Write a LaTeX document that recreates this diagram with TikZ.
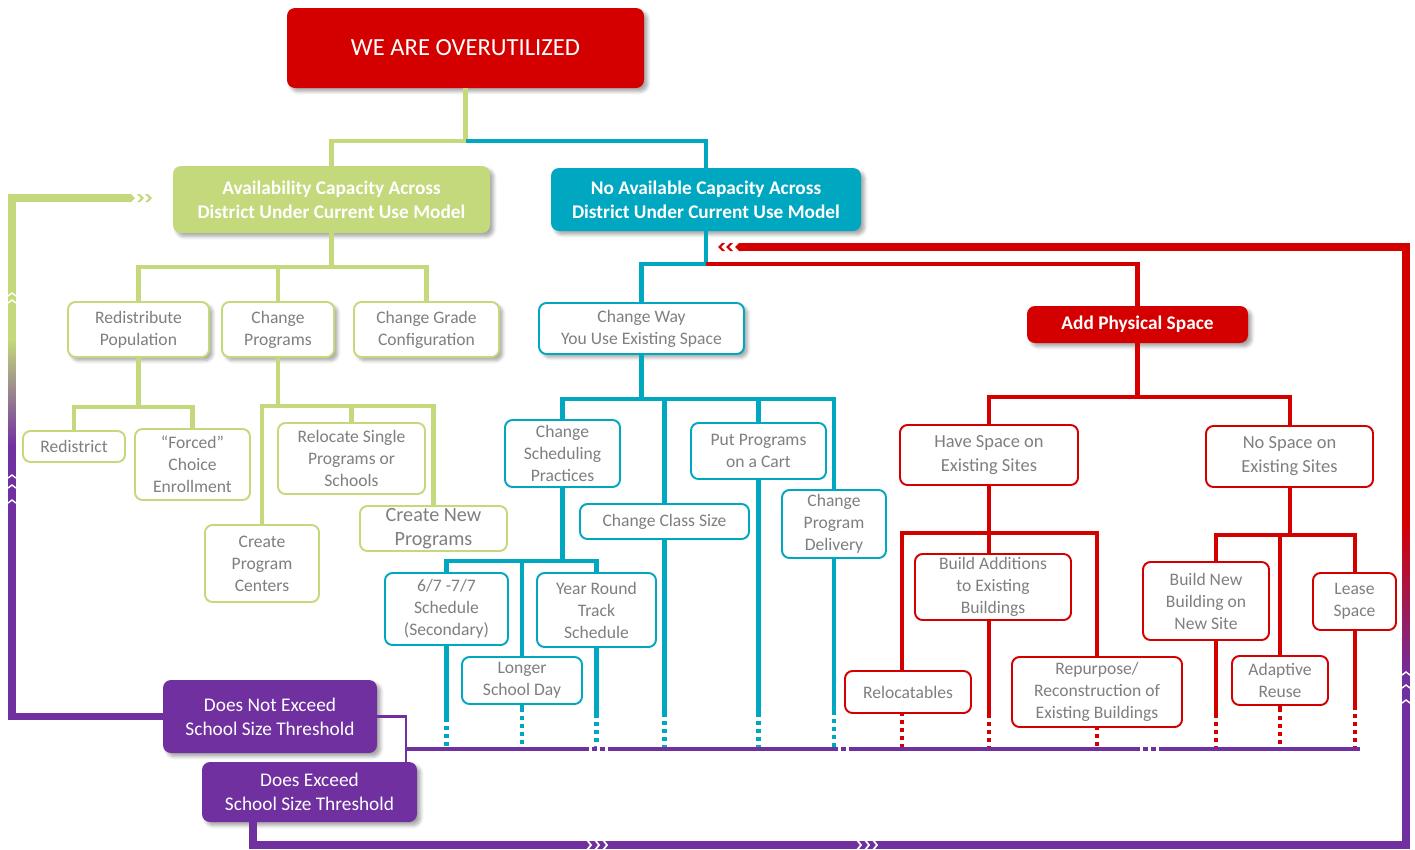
\documentclass[tikz,border=0pt]{standalone}
\usepackage{fontspec}
\setmainfont{Carlito}
\usetikzlibrary{shadows.blur}
\definecolor{cred}{HTML}{D40000}
\definecolor{cgreen}{HTML}{C3D97B}
\definecolor{cteal}{HTML}{00A7C0}
\definecolor{cpurple}{HTML}{7030A0}
\definecolor{ctext}{HTML}{7F7F7F}
\begin{document}
\begin{tikzpicture}[x=0.02cm, y=-0.02cm,
  wh/.style 2 args={minimum width=#1*0.02cm, minimum height=#2*0.02cm},
  base/.style={rounded corners=0.15cm, align=center, inner sep=0pt, line width=1.1pt,
    fill=white, text=ctext, font=\fontsize{10}{12.5}\selectfont},
  gbox/.style={base, draw=cgreen},
  tbox/.style={base, draw=cteal},
  rbox/.style={base, draw=cred},
  solidbox/.style={rounded corners=0.16cm, align=center, inner sep=0pt, text=white, draw=none},
  shad/.style={blur shadow={shadow xshift=0.07cm, shadow yshift=-0.07cm, shadow blur steps=6, shadow opacity=35}},
  gline/.style={draw=cgreen, line width=2.3pt},
  tline/.style={draw=cteal, line width=2.3pt},
  rline/.style={draw=cred, line width=2.3pt},
  tail/.style={dash pattern=on 2.3pt off 2.3pt, dash phase=2.3pt},
  loopline/.style={line width=4.5pt, line join=miter},
  chev/.pic={\fill (0,-4)--(3,-4)--(7,0)--(3,4)--(0,4)--(4,0)--cycle;},
  tip/.pic={\fill (0,-4)--(3,-4)--(7,0)--(3,4)--(0,4)--cycle;},
  upmark/.style={draw=white, line width=0.8pt},
]
\useasboundingbox (0,0) rectangle (1415,849);

% ---------- header ----------
\node[solidbox, fill=cred, shad, wh={357}{80}, font=\fontsize{14}{17}\selectfont] (top) at (465.5,48) {WE ARE OVERUTILIZED};
\node[solidbox, fill=cgreen, shad, wh={317}{67}, font=\bfseries\fontsize{11}{13.6}\selectfont] (avail) at (331.5,199.5) {Availability Capacity Across\\District Under Current Use Model};
\node[solidbox, fill=cteal, shad, wh={310}{63}, font=\bfseries\fontsize{11}{13.6}\selectfont] (noavail) at (706,199.5) {No Available Capacity Across\\District Under Current Use Model};

% ---------- green branch ----------
\node[gbox, shad, wh={141}{55}] (redpop) at (138.5,329.5) {Redistribute\\Population};
\node[gbox, shad, wh={112}{55}] (chprog) at (278,329.5) {Change\\Programs};
\node[gbox, shad, wh={145}{55}] (chgrade) at (426.5,329.5) {Change Grade\\Configuration};
\node[gbox, wh={102}{31}] (redistrict) at (74,446.5) {Redistrict};
\node[gbox, wh={115}{71}] (forced) at (192.5,464.5) {“Forced”\\Choice\\Enrollment};
\node[gbox, wh={147}{71}] (relocate) at (351.5,458.5) {Relocate Single\\Programs or\\Schools};
\node[gbox, wh={114}{77}] (centers) at (262,563.5) {Create\\Program\\Centers};
\node[gbox, wh={147}{45}, font=\fontsize{11.5}{13.6}\selectfont] (createnew) at (433.5,528.5) {Create New\\Programs};

% ---------- teal branch ----------
\node[tbox, shad, wh={205}{51}] (chway) at (641.5,328.5) {Change Way\\You Use Existing Space};
\node[tbox, wh={115}{67}] (sched) at (562.5,453.5) {Change\\Scheduling\\Practices};
\node[tbox, wh={135}{56}] (cart) at (758.5,451) {Put Programs\\on a Cart};
\node[tbox, wh={169}{35}] (classsize) at (664.5,521.5) {Change Class Size};
\node[tbox, wh={104}{68}] (delivery) at (834,524) {Change\\Program\\Delivery};
\node[tbox, wh={123}{72}] (s67) at (446.5,609) {6/7 -7/7\\Schedule\\(Secondary)};
\node[tbox, wh={119}{74}] (yearround) at (596.5,610) {Year Round\\Track\\Schedule};
\node[tbox, wh={120}{47}] (longer) at (522,680.5) {Longer\\School Day};

% ---------- red branch ----------
\node[solidbox, fill=cred, shad, wh={221}{37}, font=\bfseries\fontsize{11}{13}\selectfont] (addphys) at (1137.5,324.5) {Add Physical Space};
\node[rbox, wh={178}{60}, font=\fontsize{10.5}{13.6}\selectfont] (have) at (989,455) {Have Space on\\Existing Sites};
\node[rbox, wh={167}{61}, font=\fontsize{10.5}{13.6}\selectfont] (nospace) at (1289.5,456.5) {No Space on\\Existing Sites};
\node[rbox, wh={156}{66}] (buildadd) at (993,587) {Build Additions\\to Existing\\Buildings};
\node[rbox, wh={126}{42}] (reloc) at (908,692) {Relocatables};
\node[rbox, wh={170}{70}] (repurpose) at (1097,692) {Repurpose/\\Reconstruction of\\Existing Buildings};
\node[rbox, wh={126}{78}] (buildnew) at (1206,601) {Build New\\Building on\\New Site};
\node[rbox, wh={96}{49}] (adaptive) at (1280,680.5) {Adaptive\\Reuse};
\node[rbox, wh={83}{57}] (lease) at (1354.5,601.5) {Lease\\Space};

% ---------- school size outcomes ----------
\node[solidbox, fill=cpurple, shad, wh={214}{73}, font=\fontsize{11}{13.6}\selectfont] (dne) at (270,716.5) {Does Not Exceed\\School Size Threshold};
\node[solidbox, fill=cpurple, shad, wh={215}{60}, font=\fontsize{11}{13.6}\selectfont] (de) at (309.5,792) {Does Exceed\\School Size Threshold};

% ---------- tree connectors ----------
\coordinate (j0) at (465.5,141);
\draw[gline] (top.south) -- (j0) -| (avail.north);
\draw[tline] (j0) -| (noavail.north);

\coordinate (ja) at (331.5,267);
\draw[gline] (avail.south) -- (ja);
\foreach \c in {redpop,chprog,chgrade} \draw[gline] (ja) -| (\c.north);

\coordinate (jr) at (138.5,407);
\draw[gline] (redpop.south) -- (jr);
\foreach \c in {redistrict,forced} \draw[gline] (jr) -| (\c.north);

\coordinate (jp) at (278,406);
\draw[gline] (chprog.south) -- (jp);
\foreach \c in {centers,relocate,createnew} \draw[gline] (jp) -| (\c.north);

\coordinate (jn) at (706,264);
\draw[tline] (noavail.south) -- (jn);
\draw[tline] (jn) -| (chway.north);
\draw[rline] (jn) -| (addphys.north);

\coordinate (jw) at (641.5,399);
\draw[tline] (chway.south) -- (jw);
\foreach \c in {sched,classsize,cart,delivery} \draw[tline] (jw) -| (\c.north);

\coordinate (js) at (562.5,561);
\draw[tline] (sched.south) -- (js);
\foreach \c in {s67,longer,yearround} \draw[tline] (js) -| (\c.north);

\coordinate (jh) at (1137.5,397);
\draw[rline] (addphys.south) -- (jh);
\foreach \c in {have,nospace} \draw[rline] (jh) -| (\c.north);

\coordinate (jv) at (989,533);
\draw[rline] (have.south) -- (jv);
\draw[rline] (jv) -| ([xshift=-0.12cm]reloc.north);
\draw[rline] (jv) -| ([xshift=-0.08cm]buildadd.north);
\draw[rline] (jv) -| (repurpose.north);

\coordinate (jx) at (1289.5,535);
\draw[rline] (nospace.south) -- (jx);
\draw[rline] (jx) -| ([xshift=0.2cm]buildnew.north);
\draw[rline] (jx) -| (adaptive.north);
\draw[rline] (jx) -| (lease.north);

% ---------- tails running down to the threshold bar ----------
\coordinate (bar) at (0,747);
\foreach \n/\s/\ys in {s67/0/722, longer/0/712, yearround/0/718, classsize/0/717, cart/0/717, delivery/0/715} {
  \path ([xshift=\s cm]\n.south) coordinate (p);
  \coordinate (q) at (0,\ys);
  \draw[tline] (p) -- (p |- q);
  \draw[tline, tail] (p |- q) -- (p |- bar);
}
\foreach \n/\s/\ys in {reloc/-0.12/716, buildadd/-0.08/718, repurpose/0/730, buildnew/0.2/718, adaptive/0/712, lease/0/710} {
  \path ([xshift=\s cm]\n.south) coordinate (p);
  \coordinate (q) at (0,\ys);
  \draw[rline] (p) -- (p |- q);
  \draw[rline, tail] (p |- q) -- (p |- bar);
}

% ---------- threshold bar ----------
\coordinate (pj) at (406,749);
\coordinate (pe) at (1360,749);
\draw[cpurple, line width=1.6pt] (dne.east) -| (de.north -| pj);
\draw[cpurple, line width=2.6pt] (pj) -- (pe);
\foreach \x in {589,597,605,838,846,1140,1148,1156}
  \fill[white] (\x,745) rectangle (\x+3,753);

% ---------- loop back to available capacity ----------
\coordinate (lt) at (12,198);
\coordinate (lg) at (12,340);
\coordinate (le) at (128,198);
\draw[loopline, cpurple] (dne.west) -| (lt) -- (le);
\draw[loopline, cgreen] (lg) |- (le);
\shade[top color=cgreen, bottom color=cpurple] (8.05,340) rectangle (15.95,446);
\pic[color=cgreen] at (128,198) {tip};
\pic[color=cgreen] at (137,198) {chev};
\pic[color=cgreen] at (145,198) {chev};
\foreach \y in {293,300,475,485,500}
  \draw[upmark] (8,\y+3) -- (12,\y) -- (16,\y+3);

% ---------- loop back to adding space ----------
\coordinate (rb) at (1406,845);
\coordinate (rt) at (1406,247);
\coordinate (rm) at (1406,520);
\coordinate (re) at (742,247);
\draw[loopline, cpurple] ([xshift=-1.13cm]de.south) |- (rb) -- (rt) -- (re);
\draw[loopline, cred] (rm) -- (rt) -- (re);
\shade[top color=cred, bottom color=cpurple] (1402.05,520) rectangle (1409.95,680);
\pic[color=cred, rotate=180] at (742,247) {tip};
\pic[color=cred, rotate=180] at (733,247) {chev};
\pic[color=cred, rotate=180] at (725,247) {chev};
\foreach \y in {672,685,700}
  \draw[upmark] (1402,\y+3) -- (1406,\y) -- (1410,\y+3);
\foreach \x in {590,598,606,860,868,876}
  \draw[white, line width=1pt] (\x-3,840) -- (\x+1,845) -- (\x-3,850);
\end{tikzpicture}
\end{document}
